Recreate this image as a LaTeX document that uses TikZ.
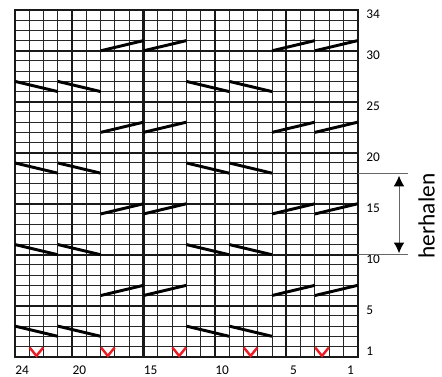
\documentclass[tikz,border=0pt]{standalone}
\usepackage{fontspec}
\setmainfont{Carlito}
\usetikzlibrary{arrows.meta}
\definecolor{vred}{RGB}{237,28,36}
\begin{document}
\begin{tikzpicture}[x=0.75pt,y=-0.75pt,
  thingrid/.style={draw=black!85,line width=0.75pt},
  thickgrid/.style={draw=black!90,line width=1.6pt},
  slip/.style={draw=black,line width=2.2pt},
  vmark/.style={draw=vred,line width=1.8pt},
  lbl/.style={font=\fontsize{10}{12}\selectfont,inner sep=0pt},
  repline/.style={draw=black!60,line width=0.7pt}]
\useasboundingbox (0,0) rectangle (442,376);
\def\R{357.7}\def\T{10}\def\B{356.7}\def\cw{14.279}\def\rh{10.197}
% thin grid
\foreach \b in {1,...,23} \draw[thingrid] ({\R-\b*\cw},\T) -- ({\R-\b*\cw},\B);
\foreach \r in {1,...,33} \draw[thingrid] ({\R-24*\cw},{\B-\r*\rh}) -- (\R,{\B-\r*\rh});
% thick grid
\foreach \b in {5,10,15,20} \draw[thickgrid] ({\R-\b*\cw},\T) -- ({\R-\b*\cw},\B);
\foreach \r in {5,10,...,30} \draw[thickgrid] ({\R-24*\cw},{\B-\r*\rh}) -- (\R,{\B-\r*\rh});
\draw[thickgrid] ({\R-24*\cw},\T) rectangle (\R,\B);
% falling strokes
\foreach \r in {2,10,18,26}
  \foreach \a/\c in {24/21,21/18,12/9,9/6}
    \draw[slip] ({\R-\a*\cw},{\B-(\r+1)*\rh}) -- ({\R-\c*\cw},{\B-\r*\rh});
% rising strokes
\foreach \r in {6,14,22,30}
  \foreach \a/\c in {18/15,15/12,6/3,3/0}
    \draw[slip] ({\R-\a*\cw},{\B-\r*\rh}) -- ({\R-\c*\cw},{\B-(\r+1)*\rh});
% red V marks
\foreach \c in {23,18,13,8,3}
  \draw[vmark] ({\R-(\c-0.5)*\cw-6.8},{\B-\rh+1}) -- ({\R-(\c-0.5)*\cw},{\B-0.8}) -- ({\R-(\c-0.5)*\cw+6.8},{\B-\rh+1});
% row labels
\foreach \r in {1,5,10,15,20,25,30,34}
  \node[lbl,anchor=west] (row\r) at (366,{\B-(\r-0.5)*\rh-0.8}) {\r};
% column labels
\foreach \c in {24,20,15,10,5,1}
  \node[lbl] (col\c) at ({\R-(\c-0.5)*\cw},370) {\c};
% repeat bracket
\coordinate (rtop) at (\R,{\B-18*\rh});
\coordinate (rbot) at (\R,{\B-10*\rh});
\coordinate (rtopE) at (408,{\B-18*\rh});
\coordinate (rbotE) at (408,{\B-10*\rh});
\draw[repline] (rtop) -- (rtopE);
\draw[repline] (rbot) -- (rbotE);
\coordinate (atop) at (399,{\B-18*\rh+2.5});
\coordinate (abot) at (399,{\B-10*\rh-1.5});
\draw[repline,{Latex[length=8pt,width=8pt,color=black]}-{Latex[length=8pt,width=8pt,color=black]}] (atop) -- (abot);
\node[font=\fontsize{17.5}{20}\selectfont,rotate=90,inner sep=0pt] (herh) at (426.5,216) {herhalen};
\end{tikzpicture}
\end{document}
